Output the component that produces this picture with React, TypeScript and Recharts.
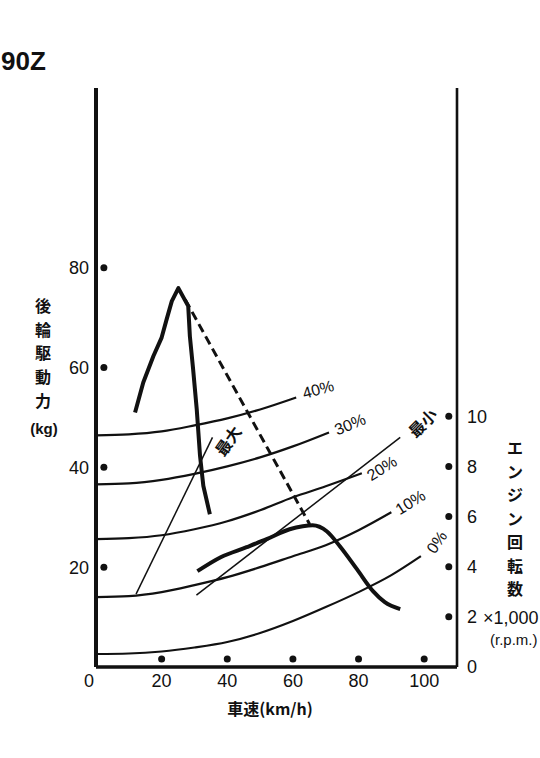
import {
  ComposedChart,
  Line,
  Scatter,
  XAxis,
  YAxis,
  ReferenceDot,
} from "recharts";

// axis ticks
const speedTicks = [0, 20, 40, 60, 80, 100];
const forceTicks = [20, 40, 60, 80];
const rpmTicks = [0, 2, 4, 6, 8, 10];

// throttle opening curves: speed (km/h) -> rear wheel drive force (kg)
const thr40Speed = [0, 10, 20, 30, 40, 50, 61];
const thr40Force = [46.4, 46.6, 47.2, 48.4, 49.8, 51.6, 54];
const thr30Speed = [0, 10, 20, 30, 40, 50, 60, 71];
const thr30Force = [36.6, 36.8, 37.5, 38.7, 40.2, 42, 44.2, 47];
const thr20Speed = [0, 10, 20, 30, 40, 50, 60, 70, 81];
const thr20Force = [25.6, 25.8, 26.4, 27.6, 29.2, 31.4, 34, 36.2, 38.8];
const thr10Speed = [0, 10, 20, 30, 40, 50, 60, 70, 80, 90];
const thr10Force = [14, 14.2, 15, 16.4, 18, 20, 22.2, 24.4, 27.4, 31];
const thr0Speed = [0, 10, 20, 30, 40, 50, 60, 70, 80, 90, 99];
const thr0Force = [2.6, 2.7, 3.1, 3.9, 5.0, 6.8, 9.2, 12.0, 15.0, 18.4, 22.2];

// max / min drive force (thick curves)
const maxSpeed = [11.9, 14.4, 17.5, 20.0, 21.5, 23.1, 25.1, 28.1, 28.6, 29.6, 30.7, 31.7, 32.7, 34.7];
const maxForce = [51, 57, 62.3, 66, 69.6, 73.3, 75.9, 72.3, 66.3, 59.6, 51.6, 42.3, 36.3, 30.6];
const minSpeed = [30.9, 38, 45.9, 52, 59, 63, 66, 70.3, 74.3, 79.5, 84.4, 88, 92.7];
const minForce = [19.2, 22, 24, 25.6, 27.6, 28.2, 28.4, 27.2, 24.2, 19.6, 15.2, 13, 11.6];

// dashed link between peaks
const linkSpeed = [27.2, 65.1];
const linkForce = [73.6, 28.6];

// thin guide lines
const maxGuideSpeed = [12.2, 35.5];
const maxGuideForce = [14.6, 46];
const minGuideSpeed = [30.6, 92.7];
const minGuideForce = [14.4, 46];

// scale markers
const leftDotForce = [20, 40, 60, 80];
const bottomDotSpeed = [20, 40, 60, 80, 100];
const rightDotRpm = [2, 4, 6, 8, 10];

const INK = "#111";
const SANS = "'Liberation Sans', Arial, sans-serif";
const CJK = "'Noto Sans CJK JP', sans-serif";

const pts = (xs: number[], ys: number[]) => xs.map((x, i) => ({ x, y: ys[i] }));
const last = (a: number[]) => a[a.length - 1];

const tags = [
  { text: "40%", x: last(thr40Speed), y: last(thr40Force), dx: 22, dy: -8, angle: -15, font: SANS },
  { text: "30%", x: last(thr30Speed), y: last(thr30Force), dx: 21, dy: -8, angle: -22, font: SANS },
  { text: "20%", x: last(thr20Speed), y: last(thr20Force), dx: 20, dy: -5, angle: -32, font: SANS },
  { text: "10%", x: last(thr10Speed), y: last(thr10Force), dx: 19, dy: -10, angle: -32, font: SANS },
  { text: "0%", x: last(thr0Speed), y: last(thr0Force), dx: 16, dy: -14, angle: -55, font: SANS },
  { text: "最大", x: last(maxGuideSpeed), y: last(maxGuideForce), dx: 15, dy: 3, angle: -55, font: CJK },
  { text: "最小", x: last(minGuideSpeed), y: last(minGuideForce), dx: 22, dy: -15, angle: -45, font: CJK },
];

const dotShape = (p: any) => <circle cx={p.cx} cy={p.cy} r={3.5} fill={INK} />;

const SpeedTick = (p: any) => {
  const v = p.payload.value;
  return (
    <text x={p.x + (v === 0 ? -7 : 0)} y={p.y + 13} textAnchor="middle" fontSize={18} fontFamily={SANS} fill={INK}>
      {v}
    </text>
  );
};

const throttleLine = (xs: number[], ys: number[]) => (
  <Line
    data={pts(xs, ys)}
    dataKey="y"
    yAxisId="kg"
    type="monotone"
    stroke={INK}
    strokeWidth={2.2}
    dot={false}
    isAnimationActive={false}
  />
);

const leftTitle = ["後", "輪", "駆", "動", "力"];
const rightTitle = ["エ", "ン", "ジ", "ン", "回", "転", "数"];

export default function App() {
  return (
    <div style={{ position: "absolute", left: 0, top: 0, width: 540, height: 758, background: "#fff" }}>
      <ComposedChart width={540} height={758} margin={{ top: 88, right: 23, bottom: 51, left: 36 }}>
        <XAxis
          type="number"
          dataKey="x"
          domain={[0, 110]}
          ticks={speedTicks}
          allowDataOverflow
          height={40}
          axisLine={{ stroke: INK, strokeWidth: 3.5 }}
          tickLine={false}
          tickSize={0}
          tickMargin={7}
          tick={<SpeedTick />}
        />
        <YAxis
          yAxisId="kg"
          type="number"
          dataKey="y"
          domain={[0, 116]}
          ticks={forceTicks}
          allowDataOverflow
          width={60}
          axisLine={{ stroke: INK, strokeWidth: 4 }}
          tickLine={false}
          tickSize={0}
          tickMargin={7}
          tick={{ fill: INK, fontSize: 18, fontFamily: SANS }}
        />
        <YAxis
          yAxisId="rpm"
          orientation="right"
          type="number"
          dataKey="y"
          domain={[0, 23.1]}
          ticks={rpmTicks}
          allowDataOverflow
          width={60}
          axisLine={{ stroke: INK, strokeWidth: 2.6 }}
          tickLine={false}
          tickSize={0}
          tickMargin={10}
          tick={{ fill: INK, fontSize: 18, fontFamily: SANS }}
        />

        {throttleLine(thr40Speed, thr40Force)}
        {throttleLine(thr30Speed, thr30Force)}
        {throttleLine(thr20Speed, thr20Force)}
        {throttleLine(thr10Speed, thr10Force)}
        {throttleLine(thr0Speed, thr0Force)}

        <Line data={pts(maxGuideSpeed, maxGuideForce)} dataKey="y" yAxisId="kg" type="linear" stroke={INK} strokeWidth={1.5} dot={false} isAnimationActive={false} />
        <Line data={pts(minGuideSpeed, minGuideForce)} dataKey="y" yAxisId="kg" type="linear" stroke={INK} strokeWidth={1.5} dot={false} isAnimationActive={false} />
        <Line data={pts(linkSpeed, linkForce)} dataKey="y" yAxisId="kg" type="linear" stroke={INK} strokeWidth={3} strokeDasharray="9 5" dot={false} isAnimationActive={false} />
        <Line data={pts(maxSpeed, maxForce)} dataKey="y" yAxisId="kg" type="linear" stroke={INK} strokeWidth={4} strokeLinejoin="round" dot={false} isAnimationActive={false} />
        <Line data={pts(minSpeed, minForce)} dataKey="y" yAxisId="kg" type="monotone" stroke={INK} strokeWidth={4} dot={false} isAnimationActive={false} />

        <Scatter data={leftDotForce.map((y) => ({ x: 2.4, y }))} yAxisId="kg" shape={dotShape} isAnimationActive={false} />
        <Scatter data={bottomDotSpeed.map((x) => ({ x, y: 1.6 }))} yAxisId="kg" shape={dotShape} isAnimationActive={false} />
        <Scatter data={rightDotRpm.map((y) => ({ x: 107.5, y }))} yAxisId="rpm" shape={dotShape} isAnimationActive={false} />

        {tags.map((t) => (
          <ReferenceDot
            key={t.text}
            x={t.x}
            y={t.y}
            yAxisId="kg"
            r={1}
            ifOverflow="visible"
            shape={(p: any) => {
              const cx = p.cx + t.dx;
              const cy = p.cy + t.dy;
              return (
                <text
                  x={cx}
                  y={cy}
                  textAnchor="middle"
                  dominantBaseline="central"
                  fontSize={16}
                  fontWeight={t.font === CJK ? 700 : 400}
                  fontFamily={t.font}
                  fill={INK}
                  transform={`rotate(${t.angle} ${cx} ${cy})`}
                >
                  {t.text}
                </text>
              );
            }}
          />
        ))}
      </ComposedChart>

      <svg width={540} height={758} style={{ position: "absolute", left: 0, top: 0, pointerEvents: "none" }}>
        <text x={1} y={70} fontSize={26} fontWeight={700} fontFamily={SANS} fill={INK}>
          90Z
        </text>
        {leftTitle.map((c, i) => (
          <text key={i} x={43} y={305 + i * 23.7} textAnchor="middle" dominantBaseline="central" fontSize={16} fontWeight={700} fontFamily={CJK} fill={INK}>
            {c}
          </text>
        ))}
        <text x={44} y={428} textAnchor="middle" dominantBaseline="central" fontSize={15} fontWeight={700} fontFamily={SANS} fill={INK}>
          (kg)
        </text>
        {rightTitle.map((c, i) => (
          <text key={i} x={515} y={447 + i * 23.5} textAnchor="middle" dominantBaseline="central" fontSize={16} fontWeight={700} fontFamily={CJK} fill={INK}>
            {c}
          </text>
        ))}
        <text x={483} y={624} fontSize={18} fontFamily={SANS} fill={INK}>
          ×1,000
        </text>
        <text x={490} y={645} fontSize={15} fontFamily={SANS} fill={INK}>
          (r.p.m.)
        </text>
        <text x={270} y={708} textAnchor="middle" dominantBaseline="central" fontSize={16} fontWeight={700} fontFamily={CJK} fill={INK}>
          車速(km/h)
        </text>
      </svg>
    </div>
  );
}
